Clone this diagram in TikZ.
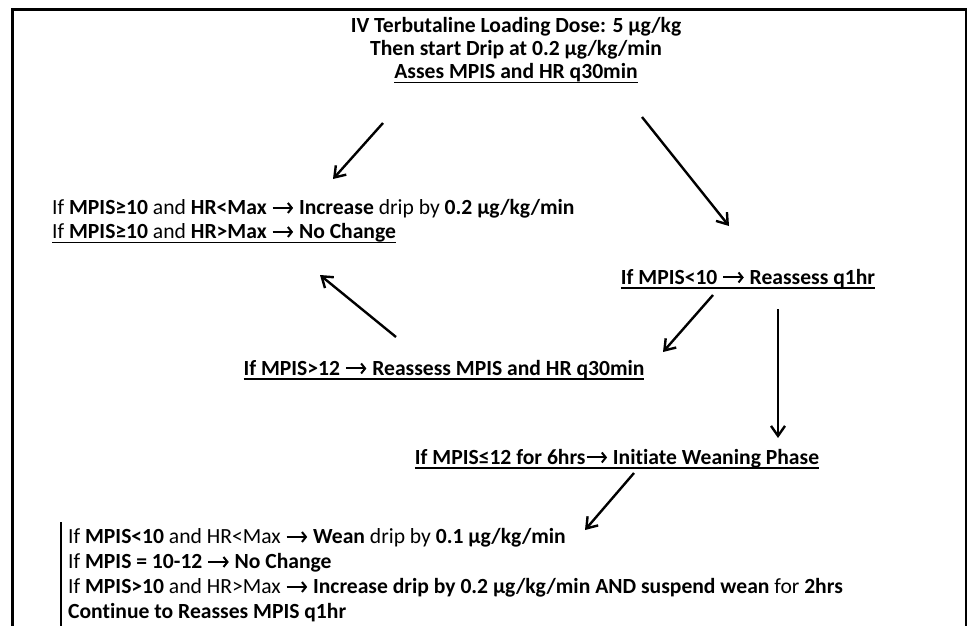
\documentclass[tikz,border=0pt]{standalone}
\usepackage{fontspec}
\setmainfont{Carlito}[Ligatures=NoCommon]
\usetikzlibrary{arrows.meta}
% arrow sign used inside the rule texts
\newcommand{\ra}{\tikz[baseline=-0.32em]\draw[line width=2pt,
  -{Straight Barb[length=4pt,width=10pt,line width=2pt]}] (0,0) -- (0.95em,0);}
% thick underline placed just below the baseline
\newcommand{\ul}[1]{\leavevmode\setbox0\hbox{#1}%
  \vtop{\hbox{\dp0=0pt\box0}\kern2.8pt\hrule height 1.6pt}}
\tikzset{
  txt/.style={inner sep=0pt, font=\fontsize{21.6}{23}\selectfont},
  flow/.style={line width=2.4pt, -{Straight Barb[length=10pt,width=14pt,line width=2.4pt]}},
  frame/.style={line width=3pt, line cap=rect}
}
\begin{document}
\begin{tikzpicture}[x=1pt,y=-1pt]
\useasboundingbox (0,0) rectangle (968,625);
% outer frame (open at the bottom)
\draw[frame] (12,640) -- (12,9) -- (965,9);
\draw[line width=2pt] (965.5,9) -- (965.5,640);
% bar beside the weaning block
\draw[line width=2.6pt] (61,522) -- (61,640);

% texts
\node[txt, align=center] (load) at (516,50.5)
  {\textbf{IV Terbutaline Loading Dose: 5 µg/kg}\\
   \textbf{Then start Drip at 0.2 µg/kg/min}\\
   \ul{\textbf{Asses MPIS and HR q30min}}};

\node[txt, align=left, anchor=west, font=\fontsize{21.6}{24}\selectfont] (high) at (52,221.5)
  {If \textbf{MPIS≥10} and \textbf{HR<Max} \ra{} \textbf{Increase} drip by \textbf{0.2 µg/kg/min}\\
   \ul{If \textbf{MPIS≥10} and \textbf{HR>Max} \ra{} \textbf{No Change}}};

\node[txt] (low) at (748,279)
  {\ul{\textbf{If MPIS<10 \ra{} Reassess q1hr}}};

\node[txt] (over) at (444,370)
  {\ul{\textbf{If MPIS>12 \ra{} Reassess MPIS and HR q30min}}};

\node[txt] (wean) at (617,459)
  {\ul{\textbf{If MPIS≤12 for 6hrs\ra{} Initiate Weaning Phase}}};

\node[txt, align=left, anchor=west, font=\fontsize{21.6}{25}\selectfont] (rules) at (68,575.5)
  {If \textbf{MPIS<10} and HR<Max \ra{} \textbf{Wean} drip by \textbf{0.1 µg/kg/min}\\
   If \textbf{MPIS = 10-12 \ra{} No Change}\\
   If \textbf{MPIS>10} and HR>Max \ra{} \textbf{Increase drip by 0.2 µg/kg/min AND suspend wean} for \textbf{2hrs}\\
   \textbf{Continue to Reasses MPIS q1hr}};

% connector end points
\coordinate (a1s) at (383,123);  \coordinate (a1e) at (333,179);
\coordinate (a2s) at (642,117);  \coordinate (a2e) at (729,226);
\coordinate (a3s) at (396,337);  \coordinate (a3e) at (320,275);
\coordinate (a4s) at (713,295);  \coordinate (a4e) at (663,352);
\coordinate (a5s) at (778,309);  \coordinate (a5e) at (778,438);
\coordinate (a6s) at (634,473);  \coordinate (a6e) at (585,530);

\draw[flow] (a1s) -- (a1e);
\draw[flow] (a2s) -- (a2e);
\draw[flow] (a3s) -- (a3e);
\draw[flow] (a4s) -- (a4e);
\draw[flow] (a5s) -- (a5e);
\draw[flow] (a6s) -- (a6e);
\end{tikzpicture}
\end{document}
